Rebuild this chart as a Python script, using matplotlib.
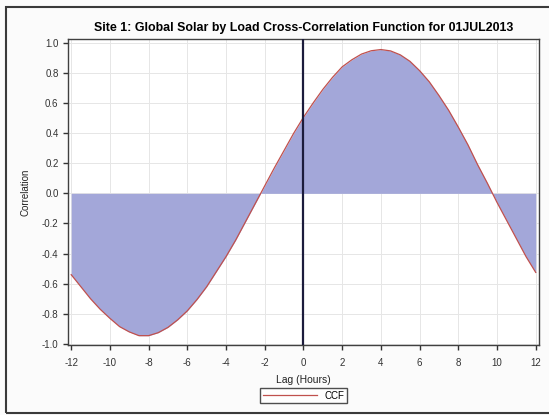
import matplotlib
matplotlib.use("Agg")
import matplotlib.pyplot as plt
from matplotlib.patches import Rectangle

title = "Site 1: Global Solar by Load Cross-Correlation Function for 01JUL2013"
lags = [-12.0, -11.5, -11.0, -10.5, -10.0, -9.5, -9.0, -8.5, -8.0, -7.5,
        -7.0, -6.5, -6.0, -5.5, -5.0, -4.5, -4.0, -3.5, -3.0, -2.5,
        -2.0, -1.5, -1.0, -0.5, 0.0, 0.5, 1.0, 1.5, 2.0, 2.5,
        3.0, 3.5, 4.0, 4.5, 5.0, 5.5, 6.0, 6.5, 7.0, 7.5,
        8.0, 8.5, 9.0, 9.5, 10.0, 10.5, 11.0, 11.5, 12.0]
ccf = [-0.54, -0.62, -0.70, -0.77, -0.83, -0.885, -0.92, -0.945, -0.945, -0.925,
       -0.89, -0.84, -0.78, -0.705, -0.62, -0.52, -0.42, -0.31, -0.19, -0.07,
       0.05, 0.17, 0.285, 0.40, 0.505, 0.60, 0.69, 0.77, 0.84, 0.887,
       0.925, 0.947, 0.955, 0.946, 0.92, 0.877, 0.815, 0.741, 0.65, 0.552,
       0.44, 0.322, 0.19, 0.068, -0.06, -0.18, -0.30, -0.42, -0.525]
xticks = list(range(-12, 13, 2))
yticks = [-1.0, -0.8, -0.6, -0.4, -0.2, 0.0, 0.2, 0.4, 0.6, 0.8, 1.0]

plt.rcParams['font.family'] = ['Liberation Sans', 'DejaVu Sans']

fig = plt.figure(figsize=(5.49, 4.15), dpi=100)
fig.patch.set_facecolor('#fbfbfb')
# outer border
fig.add_artist(Rectangle((5.5/549, 2/415), 1.2, 1 - 9/415, transform=fig.transFigure,
                         fill=False, edgecolor='#3a3a3a', linewidth=1.5))

ax = fig.add_axes([68.3/549, 1 - 345/415, (539 - 68.3)/549, (345 - 39)/415])
ax.set_facecolor('white')
ax.fill_between(lags, ccf, 0, color='#a3a7d9', linewidth=0, zorder=2)
ax.plot(lags, ccf, color='#c0504d', linewidth=0.9, zorder=3, label='CCF')
ax.axvline(0, color='#1c1c3c', linewidth=1.6, zorder=4)

ax.set_xlim(-12.15, 12.17)
ax.set_ylim(-1.007, 1.025)
ax.set_xticks(xticks)
ax.set_yticks(yticks)
ax.set_xticklabels([str(t) for t in xticks])
ax.set_yticklabels([f"{t:.1f}" for t in yticks])
ax.grid(True, color='#e6e6e6', linewidth=0.7, zorder=0)
ax.set_axisbelow(True)
ax.tick_params(direction='out', length=3.5, width=1, colors='#333333', labelsize=7,
               labelcolor='#333333')
ax.tick_params(axis='x', pad=6)
for s in ax.spines.values():
    s.set_color('#404040')
    s.set_linewidth(1.0)

ax.set_title(title, fontsize=8.9, fontweight='bold', color='black', pad=6)
ax.set_xlabel("Lag (Hours)", fontsize=7.5, color='#222222', labelpad=5)
ax.set_ylabel("Correlation", fontsize=7, color='#222222', labelpad=8)

leg = ax.legend(loc='upper center', bbox_to_anchor=(0.5, -0.125), frameon=True,
                fontsize=7, handlelength=5.6, borderpad=0.25, fancybox=False,
                handletextpad=0.8)
leg.get_frame().set_edgecolor('#222222')
leg.get_frame().set_linewidth(1.0)

fig.savefig("out.png", dpi=100, facecolor=fig.get_facecolor())
